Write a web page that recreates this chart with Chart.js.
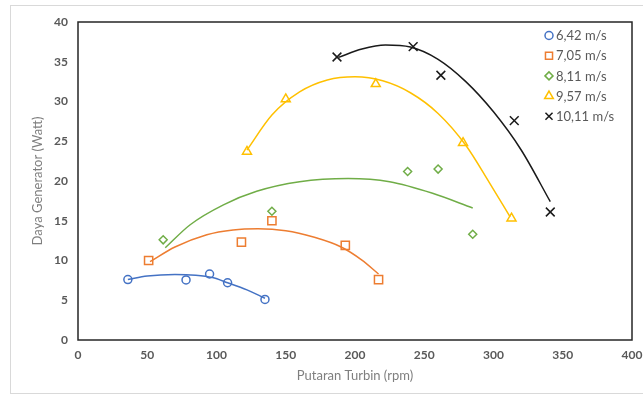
<!DOCTYPE html>
<html>
<head>
<meta charset="utf-8">
<script src="https://cdn.jsdelivr.net/npm/chart.js@4.4.1/dist/chart.umd.min.js"></script>
<style>
  html, body { margin: 0; padding: 0; background: #fff; }
  #wrap { width: 643px; height: 396px; }
</style>
</head>
<body>
<div id="wrap"><canvas id="powerChart" width="643" height="396"></canvas></div>
<script>
const seriesLabels = ["6,42 m/s", "7,05 m/s", "8,11 m/s", "9,57 m/s", "10,11 m/s"];

const rpm642 = [36, 78, 95, 108, 135];
const watt642 = [7.6, 7.55, 8.3, 7.2, 5.1];
const rpm705 = [51, 118, 140, 193, 217];
const watt705 = [10, 12.3, 15, 11.9, 7.6];
const rpm811 = [61.5, 140, 238, 260, 285];
const watt811 = [12.6, 16.2, 21.2, 21.5, 13.3];
const rpm957 = [122, 150, 215, 278, 313];
const watt957 = [23.7, 30.3, 32.2, 24.8, 15.3];
const rpm1011 = [187, 242, 262, 315, 341];
const watt1011 = [35.6, 36.9, 33.3, 27.6, 16.1];

// trendlines as drawn in the picture
const trendRpm642 = [36, 50, 70, 85, 97, 108, 122, 135];
const trendWatt642 = [7.6, 8.05, 8.25, 8.15, 7.85, 7.2, 6.3, 5.25];
const trendRpm705 = [52, 70, 93, 112, 130, 150, 170, 190, 205, 217];
const trendWatt705 = [9.85, 11.7, 13.25, 13.85, 14.0, 13.75, 12.95, 11.7, 10.05, 8.3];
const trendRpm811 = [63, 81, 105, 129, 160, 195, 225, 256, 285];
const trendWatt811 = [11.6, 14.5, 17.0, 18.7, 19.9, 20.3, 19.9, 18.45, 16.6];
const trendRpm957 = [122, 140, 160, 180, 200, 220, 240, 260, 280, 297, 312];
const trendWatt957 = [23.9, 28.3, 31.2, 32.7, 33.1, 32.6, 31.1, 28.5, 24.5, 19.8, 15.5];
const trendRpm1011 = [188, 205, 222, 240, 260, 280, 300, 320, 341];
const trendWatt1011 = [35.55, 36.6, 37.1, 36.85, 35.3, 32.5, 28.7, 23.9, 17.4];

const xTicks = [0, 50, 100, 150, 200, 250, 300, 350, 400];
const yTicks = [0, 5, 10, 15, 20, 25, 30, 35, 40];

const colors = ["#4472C4", "#ED7D31", "#70AD47", "#FFC000", "#1a1a1a"];
const styles = ["circle", "rect", "rectRot", "triangle", "crossRot"];
const radii = [4, 5.8, 4, 5.2, 6.2];

const pointSets = [
  [rpm642, watt642], [rpm705, watt705], [rpm811, watt811], [rpm957, watt957], [rpm1011, watt1011]
];
const trendSets = [
  [trendRpm642, trendWatt642], [trendRpm705, trendWatt705], [trendRpm811, trendWatt811],
  [trendRpm957, trendWatt957], [trendRpm1011, trendWatt1011]
];

const zip = (xs, ys) => xs.map((x, i) => ({ x, y: ys[i] }));

const datasets = [];
pointSets.forEach((p, i) => {
  datasets.push({
    label: seriesLabels[i],
    data: zip(p[0], p[1]),
    inLegend: true,
    showLine: false,
    pointStyle: styles[i],
    pointRadius: radii[i],
    pointBorderWidth: 1.5,
    pointBorderColor: colors[i],
    pointBackgroundColor: "rgba(0,0,0,0)",
    borderColor: colors[i]
  });
});
trendSets.forEach((t, i) => {
  datasets.push({
    label: "trend " + seriesLabels[i],
    data: zip(t[0], t[1]),
    showLine: true,
    cubicInterpolationMode: "monotone",
    borderWidth: 1.5,
    borderColor: colors[i],
    pointRadius: 0,
    fill: false
  });
});

const tickFont = { family: "Lato", size: 12, weight: "bold" };
const titleFont = { family: "Lato", size: 13 };

const frame = {
  id: "frame",
  beforeDraw(chart) {
    const c = chart.ctx;
    c.save();
    c.strokeStyle = "#d9d9d9";
    c.lineWidth = 1;
    c.strokeRect(10.5, 5.5, 650, 388);
    c.restore();
  },
  afterDraw(chart) {
    const a = chart.chartArea;
    const c = chart.ctx;
    c.save();
    c.strokeStyle = "#262626";
    c.lineWidth = 1.5;
    c.strokeRect(a.left, a.top, a.right - a.left, a.bottom - a.top);

    // legend
    const items = chart.data.datasets.filter(d => d.inLegend);
    items.forEach((d, i) => {
      const y = 35.5 + i * 20.2;
      c.strokeStyle = d.pointBorderColor;
      c.fillStyle = "rgba(0,0,0,0)";
      c.lineWidth = 1.5;
      Chart.helpers.drawPoint(c, { pointStyle: d.pointStyle, radius: Math.min(d.pointRadius, 5), borderWidth: 1.5, rotation: 0 }, 549, y);
      c.fillStyle = "#595959";
      c.font = "13px Lato";
      c.textBaseline = "middle";
      c.textAlign = "left";
      c.fillText(d.label, 556, y + 0.5);
    });
    c.restore();
  }
};

new Chart(document.getElementById("powerChart"), {
  type: "scatter",
  data: { datasets },
  options: {
    responsive: false,
    animation: false,
    layout: { padding: { left: 30, right: 11, top: 22, bottom: 10 } },
    plugins: {
      legend: { display: false },
      tooltip: { enabled: false }
    },
    scales: {
      x: {
        type: "linear",
        min: xTicks[0],
        max: xTicks[xTicks.length - 1],
        afterBuildTicks: s => { s.ticks = xTicks.map(v => ({ value: v })); },
        ticks: { padding: 8, color: "#595959", font: tickFont, maxRotation: 0 },
        grid: { display: false, drawTicks: false },
        border: { display: false },
        title: { display: true, text: "Putaran Turbin (rpm)", color: "#7f7f7f", font: titleFont, padding: { top: 0, bottom: 2 } },
        afterFit: s => { s.height = 46; s.paddingLeft = 0; s.paddingRight = 0; }
      },
      y: {
        type: "linear",
        min: yTicks[0],
        max: yTicks[yTicks.length - 1],
        afterBuildTicks: s => { s.ticks = yTicks.map(v => ({ value: v })); },
        ticks: { padding: 10, color: "#595959", font: tickFont },
        grid: { display: false, drawTicks: false },
        border: { display: false },
        title: { display: true, text: "Daya Generator (Watt)", color: "#7f7f7f", font: titleFont, padding: { top: 0, bottom: 0 } },
        afterFit: s => { s.width = 48; s.paddingTop = 0; s.paddingBottom = 0; }
      }
    }
  },
  plugins: [frame]
});
</script>
</body>
</html>
